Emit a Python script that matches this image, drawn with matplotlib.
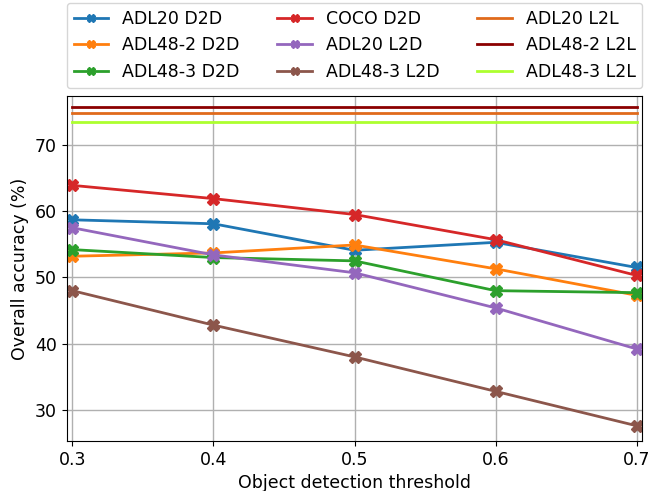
import matplotlib
matplotlib.use("Agg")
import matplotlib.pyplot as plt

plt.rcParams['font.size'] = 12.5

thresholds = [0.3, 0.4, 0.5, 0.6, 0.7]
adl20_d2d = [58.7, 58.1, 54.1, 55.3, 51.5]
adl48_2_d2d = [53.2, 53.7, 54.9, 51.3, 47.3]
adl48_3_d2d = [54.2, 53.0, 52.5, 48.0, 47.7]
coco_d2d = [63.9, 61.9, 59.5, 55.7, 50.3]
adl20_l2d = [57.5, 53.4, 50.7, 45.4, 39.2]
adl48_3_l2d = [48.0, 42.8, 38.0, 32.8, 27.6]
adl20_l2l = 74.9
adl48_2_l2l = 75.8
adl48_3_l2l = 73.4

fig = plt.figure(figsize=(6.7, 4.91), dpi=100)
ax = fig.add_axes([0.0996, 0.1018, 0.8591, 0.7021])

mk = dict(marker='X', markersize=8, linewidth=2)
ax.plot(thresholds, adl20_d2d, color='#1f77b4', label='ADL20 D2D', **mk)
ax.plot(thresholds, adl48_2_d2d, color='#ff7f0e', label='ADL48-2 D2D', **mk)
ax.plot(thresholds, adl48_3_d2d, color='#2ca02c', label='ADL48-3 D2D', **mk)
ax.plot(thresholds, coco_d2d, color='#d62728', label='COCO D2D', **mk)
ax.plot(thresholds, adl20_l2d, color='#9467bd', label='ADL20 L2D', **mk)
ax.plot(thresholds, adl48_3_l2d, color='#8c564b', label='ADL48-3 L2D', **mk)
ax.plot(thresholds, [adl20_l2l] * len(thresholds), color='#e06a1b', linewidth=2, label='ADL20 L2L')
ax.plot(thresholds, [adl48_2_l2l] * len(thresholds), color='#8b0000', linewidth=2, label='ADL48-2 L2L')
ax.plot(thresholds, [adl48_3_l2l] * len(thresholds), color='#adff2f', linewidth=2, label='ADL48-3 L2L')

ax.set_xlim(0.296, 0.704)
ax.set_ylim(25.3, 77.35)
ax.set_xticks(thresholds)
ax.set_yticks([30, 40, 50, 60, 70])
ax.grid(True, color='#b0b0b0', linewidth=1)
ax.set_xlabel('Object detection threshold')
ax.set_ylabel('Overall accuracy (%)')

ax.legend(ncol=3, loc='lower left', bbox_to_anchor=(0, 1.024, 1, 0.2),
          mode='expand', borderaxespad=0, fontsize=12.5, markerscale=0.75)

fig.savefig('out.png', dpi=100)
